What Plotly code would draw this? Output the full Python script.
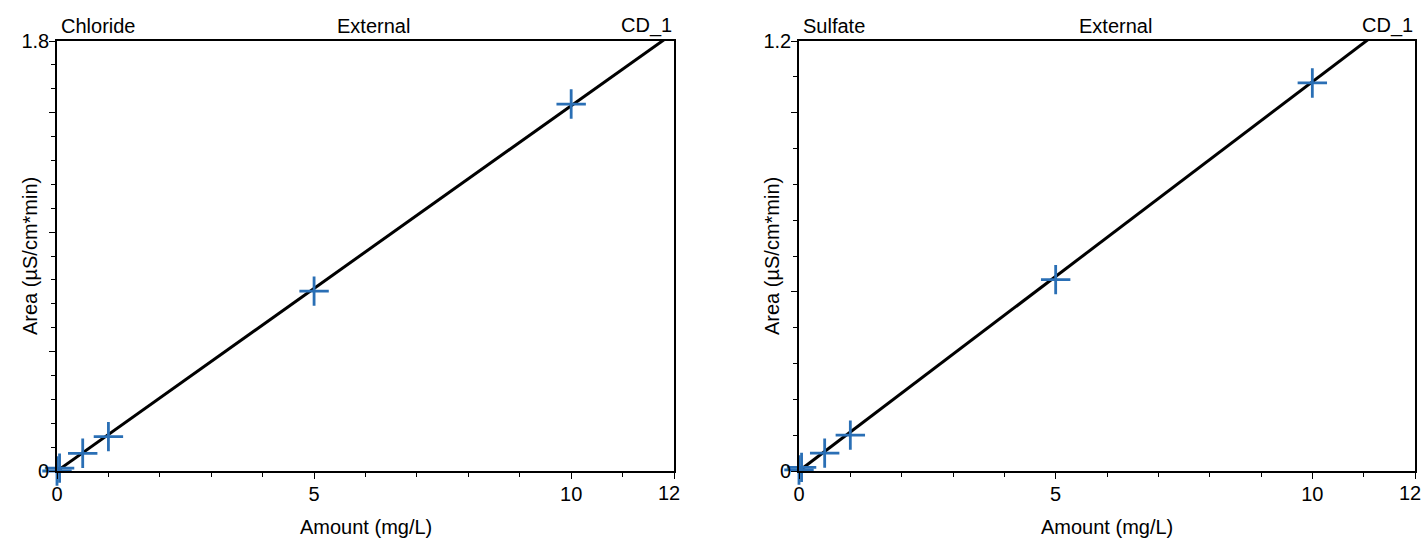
import plotly.graph_objects as go

# ---- data ----
chloride_amount = [0.0, 0.05, 0.5, 1.0, 5.0, 10.0]
chloride_area = [0.0, 0.012, 0.074, 0.144, 0.753, 1.536]
chloride_slope = 0.1529

sulfate_amount = [0.0, 0.05, 0.5, 1.0, 5.0, 10.0]
sulfate_area = [0.003, 0.01, 0.05, 0.1, 0.534, 1.083]
sulfate_slope = 0.1086

fit_x = [0.0, 12.0]

x_tickvals = [0, 5, 10, 12]
x_ticktext = ["0", "5", "10", ""]
x_end_value = 12
x_end_label = "12"
cl_tickvals = [0, 0.5, 1.0, 1.5, 1.8]
cl_ticktext = ["0", "", "", "", "1.8"]
so_tickvals = [0, 0.5, 1.0, 1.2]
so_ticktext = ["0", "", "", "1.2"]

W, H = 1423, 541
FONT = "Liberation Sans, Arial, Helvetica, sans-serif"
BLUE = "#2a6fb5"
FS = 20

def px_x(p):
    return p / W

def px_y(p):
    return 1 - p / H

fig = go.Figure()

panels = [
    ("x", "y", chloride_amount, chloride_area, chloride_slope),
    ("x2", "y2", sulfate_amount, sulfate_area, sulfate_slope),
]
for xa, ya, xs, ys, slope in panels:
    fig.add_trace(go.Scatter(
        x=fit_x, y=[slope * v for v in fit_x], xaxis=xa, yaxis=ya,
        mode="lines", line=dict(color="black", width=3),
        showlegend=False, hoverinfo="skip"))
    fig.add_trace(go.Scatter(
        x=xs, y=ys, xaxis=xa, yaxis=ya, mode="markers",
        marker=dict(symbol="cross-thin-open", size=21,
                    line=dict(color=BLUE, width=2.8), color=BLUE),
        cliponaxis=False, showlegend=False))

left = (57, 674)
right = (799, 1415)
top, bottom = 41, 471

common_axis = dict(
    showline=True, mirror=True, linecolor="black", linewidth=1.6,
    showgrid=False, zeroline=False, ticks="outside", tickcolor="black",
    ticklen=6, tickwidth=1.3, automargin=False,
    tickfont=dict(family=FONT, size=FS, color="black"),
)

def minor(d):
    return dict(tickmode="linear", tick0=0, dtick=d, ticks="outside",
                ticklen=4, tickcolor="black", tickwidth=1.2)

fig.update_layout(
    width=W, height=H,
    margin=dict(l=0, r=0, t=0, b=0, autoexpand=False),
    paper_bgcolor="white", plot_bgcolor="white",
    xaxis=dict(domain=[px_x(left[0]), px_x(left[1])], range=[0, 12], anchor="y",
               tickmode="array", tickvals=x_tickvals, ticktext=x_ticktext,
               minor=minor(1), ticklabelstandoff=-2, **common_axis),
    yaxis=dict(domain=[px_y(bottom), px_y(top)], range=[0, 1.8], anchor="x",
               tickmode="array", tickvals=cl_tickvals, ticktext=cl_ticktext,
               minor=minor(0.1), ticklabelstandoff=-4, **common_axis),
    xaxis2=dict(domain=[px_x(right[0]), px_x(right[1])], range=[0, 12], anchor="y2",
                tickmode="array", tickvals=x_tickvals, ticktext=x_ticktext,
                minor=minor(1), ticklabelstandoff=-2, **common_axis),
    yaxis2=dict(domain=[px_y(bottom), px_y(top)], range=[0, 1.2], anchor="x2",
                tickmode="array", tickvals=so_tickvals, ticktext=so_ticktext,
                minor=minor(0.1), ticklabelstandoff=-4, **common_axis),
)

anns = []
for (l, r), name in [(left, "Chloride"), (right, "Sulfate")]:
    anns.append(dict(text=name, x=px_x(l + 2), y=px_y(top - 2), xanchor="left", yanchor="bottom",
                     xref="paper", yref="paper"))
    anns.append(dict(text="External", x=px_x((l + r) / 2 + 8), y=px_y(top - 2), xanchor="center", yanchor="bottom",
                     xref="paper", yref="paper"))
    anns.append(dict(text="CD_1", x=px_x(r), y=px_y(top - 2), xanchor="right", yanchor="bottom",
                     xref="paper", yref="paper"))
    anns.append(dict(text="Amount (mg/L)", x=px_x((l + r) / 2), y=px_y(527), xanchor="center", yanchor="middle",
                     xref="paper", yref="paper"))
    anns.append(dict(text="Area (µS/cm*min)", x=px_x(l - 27), y=px_y((top + bottom) / 2), xanchor="center",
                     yanchor="middle", textangle=-90, xref="paper", yref="paper"))

# end-of-axis "12" labels, nudged left as in the reference
for xa, ya in [("x", "y"), ("x2", "y2")]:
    anns.append(dict(text=x_end_label, x=x_end_value, y=0, xref=xa, yref=ya,
                     xanchor="center", yanchor="middle", xshift=-5, yshift=-22))

for a in anns:
    a.update(showarrow=False, font=dict(family=FONT, size=FS, color="black"))
fig.update_layout(annotations=anns)

fig.write_html(
    "out.html",
    config={"displayModeBar": False},
    post_script="document.body.style.margin='0';"
                "document.documentElement.style.overflow='hidden';",
)
